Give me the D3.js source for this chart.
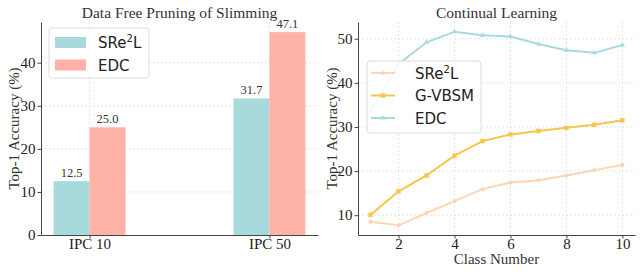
<!DOCTYPE html>
<html>
<head>
<meta charset="utf-8">
<script src="https://cdn.jsdelivr.net/npm/d3@7"></script>
<style>
  body { margin: 0; background: #fff; }
  svg { display: block; }
  .tick text { font-family: "Liberation Serif", "DejaVu Serif", serif; fill: #222; }
</style>
</head>
<body>
<svg width="642" height="275"></svg>
<script>
// bar chart data
var ipcLabels = ["IPC 10", "IPC 50"];
var barSeries = ["SRe2L", "EDC"];
var sre2lBars = [12.5, 31.7];
var edcBars = [25.0, 47.1];
var barColors = ["#a8dadc", "#ffb3a7"];
var barTicks = [0, 10, 20, 30, 40];

// continual learning data
var classNum = [1, 2, 3, 4, 5, 6, 7, 8, 9, 10];
var sre2lLine = [8.5, 7.7, 10.5, 13.2, 15.9, 17.4, 17.9, 19.0, 20.2, 21.4];
var gvbsmLine = [10.1, 15.4, 19.0, 23.5, 26.8, 28.3, 29.1, 29.8, 30.5, 31.5];
var edcLine = [33.6, 44.3, 49.2, 51.6, 50.8, 50.5, 48.8, 47.4, 46.8, 48.6];
var lineNames = ["SRe2L", "G-VBSM", "EDC"];
var lineColors = ["#ffd5b5", "#f6c64c", "#a8dadc"];
var lineTicksX = [2, 4, 6, 8, 10];
var lineTicksY = [10, 20, 30, 40, 50];

var svg = d3.select("svg");
var serif = "'Liberation Serif', 'DejaVu Serif', serif";
var sans = "'DejaVu Sans', sans-serif";

function legendLabel(sel, name) {
  // SRe²L gets a superscript 2
  if (name == "SRe2L") {
    sel.append("tspan").text("SRe");
    sel.append("tspan").text("2").attr("dy", -6).style("font-size", "10px");
    sel.append("tspan").text("L").attr("dy", 6);
  } else sel.text(name);
}

function styleAxes(g) {
  g.selectAll(".domain").attr("stroke", "#444").attr("stroke-width", 1);
  g.selectAll(".tick line").attr("stroke", "#444");
  g.selectAll(".tick text").style("font-size", "15px");
}

// ---------- left: bars ----------
var L = {left: 41, right: 318, top: 22, bottom: 235};
var xb = d3.scaleLinear().domain([-0.27, 1.27]).range([L.left, L.right]);
var yb = d3.scaleLinear().domain([0, 49.455]).range([L.bottom, L.top]);
var left = svg.append("g");

// grid
left.append("g").selectAll("line").data(barTicks.slice(1)).enter().append("line")
  .attr("x1", L.left).attr("x2", L.right)
  .attr("y1", function(d) { return yb(d); }).attr("y2", function(d) { return yb(d); })
  .attr("stroke", "#ddd").attr("stroke-dasharray", "2,2").attr("stroke-width", 0.8);
left.append("g").selectAll("line").data([0, 1]).enter().append("line")
  .attr("x1", function(d) { return xb(d); }).attr("x2", function(d) { return xb(d); })
  .attr("y1", L.top).attr("y2", L.bottom)
  .attr("stroke", "#ddd").attr("stroke-dasharray", "2,2").attr("stroke-width", 0.8);

var barW = 0.2;
[sre2lBars, edcBars].forEach(function(vals, si) {
  var off = si == 0 ? -barW / 2 : barW / 2;
  left.append("g").selectAll("rect").data(vals).enter().append("rect")
    .attr("x", function(d, i) { return xb(i + off - barW / 2); })
    .attr("width", xb(barW) - xb(0))
    .attr("y", function(d) { return yb(d); })
    .attr("height", function(d) { return yb(0) - yb(d); })
    .attr("fill", barColors[si]);
  left.append("g").selectAll("text").data(vals).enter().append("text")
    .attr("x", function(d, i) { return xb(i + off); })
    .attr("y", function(d) { return yb(d) - 4.5; })
    .attr("text-anchor", "middle")
    .style("font-family", serif).style("font-size", "12.5px").attr("fill", "#333")
    .text(function(d) { return d.toFixed(1); });
});

var gyb = left.append("g").attr("transform", "translate(" + L.left + ",0)")
  .call(d3.axisLeft(yb).tickValues(barTicks).tickSize(3.5).tickPadding(2).tickSizeOuter(0));
styleAxes(gyb);
var gxb = left.append("g").attr("transform", "translate(0," + L.bottom + ")")
  .call(d3.axisBottom(xb).tickValues([0, 1]).tickFormat(function(d) { return ipcLabels[d]; })
    .tickSize(3.5).tickPadding(0).tickSizeOuter(0));
styleAxes(gxb);

left.append("text").attr("x", (L.left + L.right) / 2).attr("y", 17.5)
  .attr("text-anchor", "middle").style("font-family", serif).style("font-size", "15.5px")
  .attr("fill", "#333").text("Data Free Pruning of Slimming");
left.append("text").attr("transform", "translate(19," + (L.top + L.bottom) / 2 + ") rotate(-90)")
  .attr("text-anchor", "middle").style("font-family", serif).style("font-size", "15px")
  .attr("fill", "#333").text("Top-1 Accuracy (%)");

// legend
var lg = left.append("g").attr("transform", "translate(49,28)");
lg.append("rect").attr("width", 100).attr("height", 50).attr("rx", 3)
  .attr("fill", "#fff").attr("fill-opacity", 0.85).attr("stroke", "#ddd");
barSeries.forEach(function(n, i) {
  lg.append("rect").attr("x", 6).attr("y", 9 + i * 22.5).attr("width", 31).attr("height", 11)
    .attr("fill", barColors[i]);
  var t = lg.append("text").attr("x", 49).attr("y", 20 + i * 22.5)
    .style("font-family", sans).style("font-size", "15px").attr("fill", "#222");
  legendLabel(t, n);
});

// ---------- right: lines ----------
var R = {left: 358, right: 635, top: 22, bottom: 235};
var xl = d3.scaleLinear().domain([0.55, 10.45]).range([R.left, R.right]);
var yl = d3.scaleLinear().domain([5.505, 53.795]).range([R.bottom, R.top]);
var right = svg.append("g");

right.append("g").selectAll("line").data(lineTicksY).enter().append("line")
  .attr("x1", R.left).attr("x2", R.right)
  .attr("y1", function(d) { return yl(d); }).attr("y2", function(d) { return yl(d); })
  .attr("stroke", "#ddd").attr("stroke-dasharray", "2,2").attr("stroke-width", 0.8);
right.append("g").selectAll("line").data(lineTicksX).enter().append("line")
  .attr("x1", function(d) { return xl(d); }).attr("x2", function(d) { return xl(d); })
  .attr("y1", R.top).attr("y2", R.bottom)
  .attr("stroke", "#ddd").attr("stroke-dasharray", "2,2").attr("stroke-width", 0.8);

var line = d3.line().x(function(d, i) { return xl(classNum[i]); }).y(function(d) { return yl(d); });
var symbols = [d3.symbolCircle, d3.symbolSquare, d3.symbolTriangle];
var symSize = [14, 20, 12];
[sre2lLine, gvbsmLine, edcLine].forEach(function(vals, si) {
  right.append("path").datum(vals).attr("d", line)
    .attr("fill", "none").attr("stroke", lineColors[si]).attr("stroke-width", 2);
  right.append("g").selectAll("path").data(vals).enter().append("path")
    .attr("transform", function(d, i) { return "translate(" + xl(classNum[i]) + "," + yl(d) + ")"; })
    .attr("d", d3.symbol().type(symbols[si]).size(symSize[si]))
    .attr("fill", lineColors[si]);
});

var gyl = right.append("g").attr("transform", "translate(" + R.left + ",0)")
  .call(d3.axisLeft(yl).tickValues(lineTicksY).tickSize(3.5).tickPadding(2).tickSizeOuter(0));
styleAxes(gyl);
var gxl = right.append("g").attr("transform", "translate(0," + R.bottom + ")")
  .call(d3.axisBottom(xl).tickValues(lineTicksX).tickSize(3.5).tickPadding(0).tickSizeOuter(0));
styleAxes(gxl);

right.append("text").attr("x", (R.left + R.right) / 2).attr("y", 17.5)
  .attr("text-anchor", "middle").style("font-family", serif).style("font-size", "15.5px")
  .attr("fill", "#333").text("Continual Learning");
right.append("text").attr("x", (R.left + R.right) / 2).attr("y", 264)
  .attr("text-anchor", "middle").style("font-family", serif).style("font-size", "15px")
  .attr("fill", "#333").text("Class Number");
right.append("text").attr("transform", "translate(337," + (R.top + R.bottom) / 2 + ") rotate(-90)")
  .attr("text-anchor", "middle").style("font-family", serif).style("font-size", "15px")
  .attr("fill", "#333").text("Top-1 Accuracy (%)");

var rl = right.append("g").attr("transform", "translate(367,61)");
rl.append("rect").attr("width", 114).attr("height", 72).attr("rx", 3)
  .attr("fill", "#fff").attr("fill-opacity", 0.85).attr("stroke", "#ddd");
lineNames.forEach(function(n, i) {
  var yy = 12 + i * 22.5;
  rl.append("line").attr("x1", 4).attr("x2", 28).attr("y1", yy).attr("y2", yy)
    .attr("stroke", lineColors[i]).attr("stroke-width", 2);
  rl.append("path").attr("transform", "translate(16," + yy + ")")
    .attr("d", d3.symbol().type(symbols[i]).size(symSize[i])).attr("fill", lineColors[i]);
  var t = rl.append("text").attr("x", 48).attr("y", yy + 5.5)
    .style("font-family", sans).style("font-size", "15px").attr("fill", "#222");
  legendLabel(t, n);
});
</script>
</body>
</html>
